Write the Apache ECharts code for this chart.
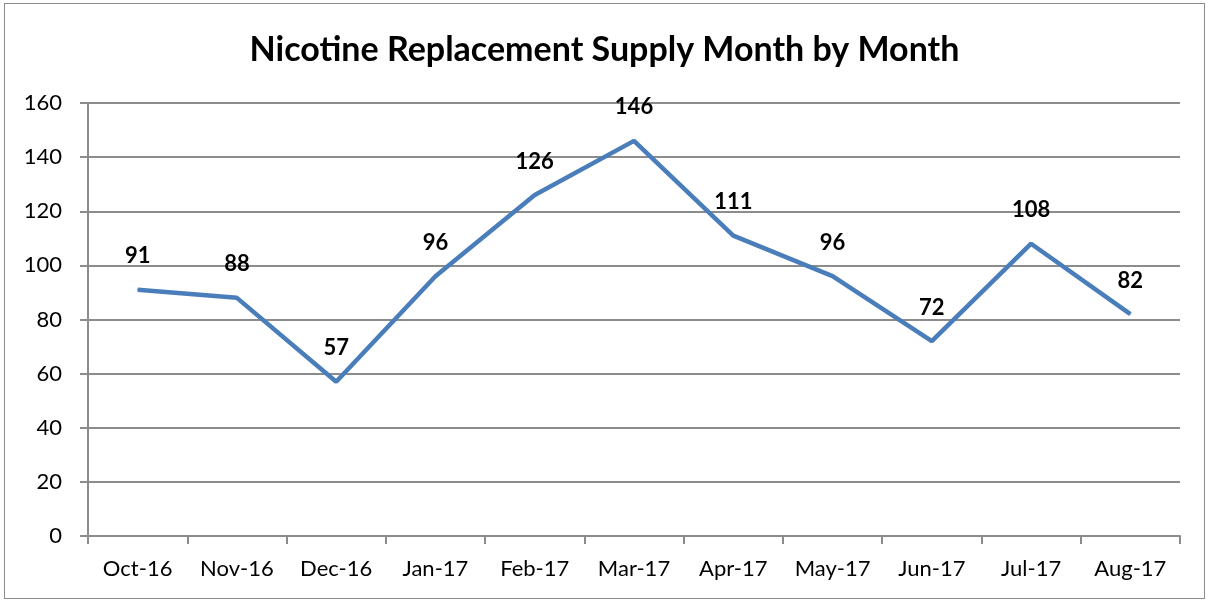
<!DOCTYPE html>
<html>
<head>
<meta charset="utf-8">
<script src="https://cdn.jsdelivr.net/npm/echarts@6/dist/echarts.min.js"></script>
<style>
  html, body { margin: 0; padding: 0; background: #fff; }
  #main { position: absolute; left: 4px; top: 3px; width: 1201px; height: 596px; border: 1px solid #8c8c8c; box-sizing: border-box; }
</style>
</head>
<body>
<div id="main"></div>
<script>
// chart data
const months = ['Oct-16', 'Nov-16', 'Dec-16', 'Jan-17', 'Feb-17', 'Mar-17', 'Apr-17', 'May-17', 'Jun-17', 'Jul-17', 'Aug-17'];
const supply = [91, 88, 57, 96, 126, 146, 111, 96, 72, 108, 82];

const myChart = echarts.init(document.getElementById('main'));
const font = 'Lato, "Open Sans", sans-serif';

const option = {
  animation: false,
  title: {
    text: 'Nicotine Replacement Supply Month by Month',
    left: 'center',
    top: 24,
    textStyle: { fontFamily: font, fontSize: 34, fontWeight: 'bold', color: '#000' }
  },
  grid: { left: 83, right: 24, top: 99, bottom: 62 },
  xAxis: {
    type: 'category',
    data: months,
    boundaryGap: true,
    axisLine: { lineStyle: { color: '#8c8c8c', width: 2 } },
    axisTick: { show: true, length: 8, lineStyle: { color: '#8c8c8c', width: 2 } },
    axisLabel: { fontFamily: font, fontSize: 22, color: '#000', margin: 22, interval: 0 }
  },
  yAxis: {
    type: 'value',
    min: 0,
    max: 160,
    interval: 20,
    axisLine: { show: true, lineStyle: { color: '#8c8c8c', width: 2 } },
    axisTick: { show: true, length: 8, lineStyle: { color: '#8c8c8c', width: 2 } },
    splitLine: { lineStyle: { color: '#8c8c8c', width: 2 } },
    axisLabel: { fontFamily: font, fontSize: 22, color: '#000', margin: 26 }
  },
  series: [
    {
      type: 'line',
      data: supply,
      symbol: 'circle',
      symbolSize: 1,
      itemStyle: { color: '#4a7ebb' },
      lineStyle: { color: '#4a7ebb', width: 4.5 },
      label: {
        show: true,
        position: 'top',
        distance: 22,
        fontFamily: font,
        fontSize: 22,
        fontWeight: 'bold',
        color: '#000'
      }
    }
  ]
};

myChart.setOption(option);
</script>
</body>
</html>
